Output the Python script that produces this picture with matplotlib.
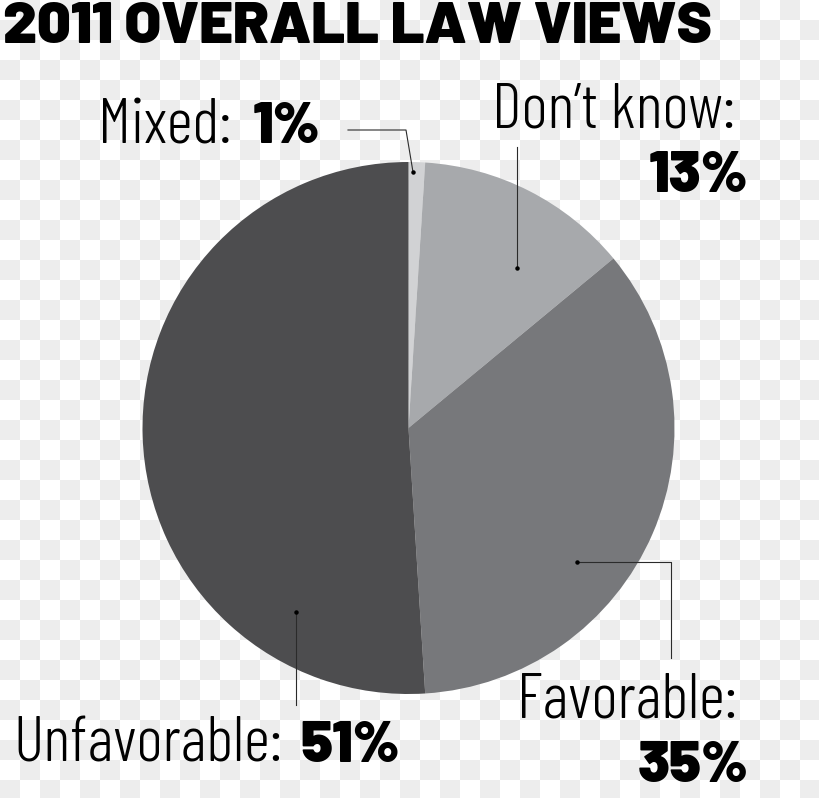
import matplotlib.pyplot as plt
import numpy as np

# data
labels = ['Mixed', 'Don\u2019t know', 'Favorable', 'Unfavorable']
shares = [1, 13, 35, 51]
colors = ['#d1d2d4', '#a7a9ac', '#77787b', '#4d4d4f']
title = '2011 OVERALL LAW VIEWS'

W, H = 820, 798


def Y(y):
    # screen y (from top) -> data y
    return H - y


fig = plt.figure(figsize=(W / 100, H / 100), dpi=100)
ax = fig.add_axes([0, 0, 1, 1])

# checker background, 20 px squares
n_r, n_c = H // 20 + 1, W // 20 + 1
ii, jj = np.meshgrid(np.arange(n_r), np.arange(n_c), indexing='ij')
checker = np.where((ii + jj) % 2 == 1, 0.929, 1.0)
ax.imshow(checker, cmap='gray', vmin=0, vmax=1, interpolation='nearest',
          extent=[0, n_c * 20, H - n_r * 20, H], origin='upper', zorder=0)

# pie
ax.pie(shares, colors=colors, startangle=90, counterclock=False,
       center=(408.5, Y(428)), radius=266, frame=True,
       wedgeprops=dict(linewidth=0))
ax.set_xlim(0, W)
ax.set_ylim(0, H)
ax.set_aspect('equal')
ax.axis('off')

# leader lines
lc = '#2b2b2b'
leaders = [
    ([348, 406, 413], [130, 130, 172]),
    ([517, 517], [147, 268]),
    ([577, 671, 671], [562, 562, 658]),
    ([296, 296], [612, 705]),
]
dots = [(413, 172), (517, 268), (577, 562), (296, 612)]
for xs, ys in leaders:
    ax.plot(xs, [Y(v) for v in ys], color=lc, lw=0.8, zorder=3)
for x, y in dots:
    ax.plot(x, Y(y), 'o', color='black', ms=2.2, zorder=4)

reg = dict(family=['Barlow Condensed', 'DejaVu Sans'], fontweight=300, fontsize=46,
           color='black', va='baseline')
bold = dict(family=['Barlow', 'DejaVu Sans'], fontweight=900, fontsize=41.5,
            color='black', va='baseline')

ax.text(3, Y(43), title, family=['Barlow', 'DejaVu Sans'], fontweight=900,
        fontsize=42.5, va='baseline', ha='left')

ax.text(98, Y(143), labels[0] + ':', ha='left', **reg)
ax.text(253, Y(143), f'{shares[0]}%', ha='left', **bold)

ax.text(735, Y(127), labels[1] + ':', ha='right', **reg)
ax.text(748, Y(192), f'{shares[1]}%', ha='right', **bold)

ax.text(737, Y(718), labels[2] + ':', ha='right', **reg)
ax.text(748, Y(782), f'{shares[2]}%', ha='right', **bold)

ax.text(13, Y(762), labels[3] + ':', ha='left', **reg)
ax.text(300, Y(762), f'{shares[3]}%', ha='left', **bold)

fig.savefig('out.png', dpi=100)
